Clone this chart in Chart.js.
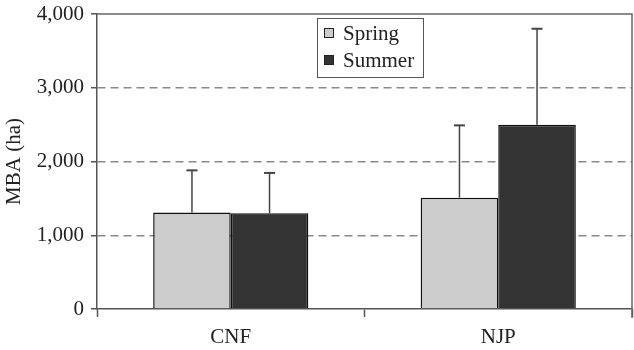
<!DOCTYPE html>
<html>
<head>
<meta charset="utf-8">
<script src="https://cdn.jsdelivr.net/npm/chart.js@4"></script>
<style>
  html, body { margin: 0; padding: 0; background: #fff; }
  #wrap { width: 634px; height: 350px; }
</style>
</head>
<body>
<div id="wrap"><canvas id="chartMBA" width="634" height="350"></canvas></div>
<script>
const categories = ['CNF', 'NJP'];
const springMBA = [1310, 1510];
const summerMBA = [1300, 2500];
const springSD = [570, 980];
const summerSD = [545, 1300];

const FONT = 'Liberation Serif, "Times New Roman", serif';

// upward-only error bars with a small cap
const errorBars = {
  id: 'errorBars',
  afterDatasetsDraw(chart) {
    const ctx = chart.ctx;
    const yScale = chart.scales.y;
    chart.data.datasets.forEach((ds, i) => {
      const meta = chart.getDatasetMeta(i);
      meta.data.forEach((bar, j) => {
        const top = yScale.getPixelForValue(ds.data[j] + ds.errors[j]);
        ctx.save();
        ctx.strokeStyle = '#444';
        ctx.lineWidth = 1.5;
        ctx.beginPath();
        ctx.moveTo(bar.x, bar.y);
        ctx.lineTo(bar.x, top);
        ctx.stroke();
        ctx.lineWidth = 2;
        ctx.beginPath();
        ctx.moveTo(bar.x - 5.5, top);
        ctx.lineTo(bar.x + 5.5, top);
        ctx.stroke();
        ctx.restore();
      });
    });
  }
};

// top and right edges of the plot frame
const frame = {
  id: 'frame',
  beforeDatasetsDraw(chart) {
    const {ctx, chartArea: a} = chart;
    ctx.save();
    ctx.strokeStyle = '#666';
    ctx.lineWidth = 1.5;
    ctx.beginPath();
    ctx.moveTo(a.left, a.top);
    ctx.lineTo(a.right, a.top);
    ctx.lineTo(a.right, a.bottom + 9);
    ctx.stroke();
    ctx.restore();
  }
};

// boxed legend inside the plot
const boxLegend = {
  id: 'boxLegend',
  afterDraw(chart) {
    const ctx = chart.ctx;
    const x = 317, y = 18, w = 106, h = 59;
    ctx.save();
    ctx.fillStyle = '#fff';
    ctx.fillRect(x, y, w, h);
    ctx.strokeStyle = '#555';
    ctx.lineWidth = 1;
    ctx.strokeRect(x + 0.5, y + 0.5, w, h);
    ctx.font = '21px ' + FONT;
    ctx.textBaseline = 'middle';
    chart.data.datasets.forEach((ds, i) => {
      const cy = y + 15 + i * 27;
      ctx.fillStyle = ds.backgroundColor;
      ctx.fillRect(x + 7.5, cy - 4.5, 9, 9);
      ctx.strokeStyle = '#222';
      ctx.strokeRect(x + 7.5, cy - 4.5, 9, 9);
      ctx.fillStyle = '#222';
      ctx.fillText(ds.label, x + 26, cy + 1);
    });
    ctx.restore();
  }
};

new Chart(document.getElementById('chartMBA'), {
  type: 'bar',
  data: {
    labels: categories,
    datasets: [{
      label: 'Spring',
      data: springMBA,
      errors: springSD,
      backgroundColor: '#cccccc',
      borderColor: '#111',
      borderWidth: 1.5
    }, {
      label: 'Summer',
      data: summerMBA,
      errors: summerSD,
      backgroundColor: '#333333',
      borderColor: '#111',
      borderWidth: 1.5
    }]
  },
  options: {
    responsive: false,
    animation: false,
    devicePixelRatio: 1,
    layout: { padding: { top: 14, right: 2, left: 0, bottom: 0 } },
    datasets: { bar: { categoryPercentage: 0.58, barPercentage: 1.0 } },
    plugins: {
      legend: { display: false },
      tooltip: { enabled: false }
    },
    scales: {
      x: {
        afterFit(scale) { scale.height = 41; },
        grid: { drawOnChartArea: false, tickLength: 8, tickColor: '#555', tickWidth: 1.5 },
        border: { color: '#555', width: 1.5 },
        ticks: { color: '#222', padding: 8, font: { family: FONT, size: 21 } }
      },
      y: {
        min: 0,
        max: 4000,
        afterFit(scale) {
          scale.width = 97;
          scale.paddingTop = 0;
          scale.paddingBottom = 0;
        },
        grid: {
          color: c => (c.tick && (c.tick.value === 0 || c.tick.value === 4000)) ? 'rgba(0,0,0,0)' : '#8a8a8a',
          lineWidth: 1.5,
          tickLength: 6,
          tickColor: '#555',
          tickWidth: 1.5,
          tickBorderDash: []
        },
        border: { color: '#555', width: 1.5, dash: [8, 5] },
        ticks: {
          stepSize: 1000,
          padding: 7,
          color: '#222',
          font: { family: FONT, size: 21 },
          callback: v => v.toLocaleString('en-US')
        },
        title: {
          display: true,
          text: 'MBA (ha)',
          color: '#222',
          padding: { top: 2, bottom: 0 },
          font: { family: FONT, size: 21 }
        }
      }
    }
  },
  plugins: [frame, errorBars, boxLegend]
});
</script>
</body>
</html>
